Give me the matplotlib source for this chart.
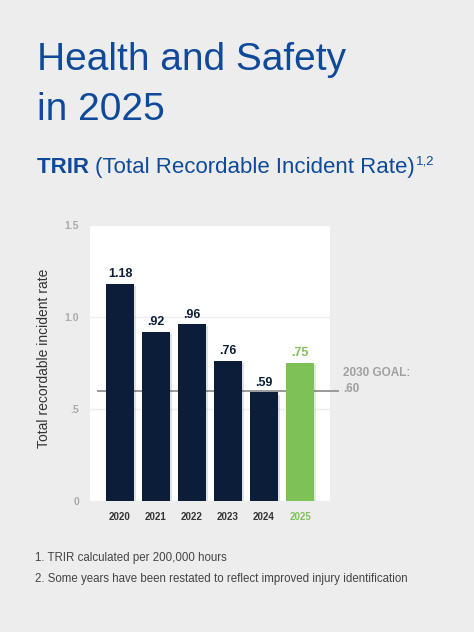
import matplotlib.pyplot as plt
import matplotlib.patheffects as pe

plt.rcParams['font.family'] = ['Liberation Sans', 'DejaVu Sans']

# chart data
years = ['2020', '2021', '2022', '2023', '2024', '2025']
trir = [1.18, 0.92, 0.96, 0.76, 0.59, 0.75]
value_labels = ['1.18', '.92', '.96', '.76', '.59', '.75']
goal = 0.60
y_ticks = [0, 0.5, 1.0, 1.5]
y_tick_labels = ['0', '.5', '1.0', '1.5']

navy = '#0b1d38'
green = '#7dc157'
blue = '#0f4a9a'
grey = '#a0a0a0'

fig = plt.figure(figsize=(4.74, 6.32), dpi=100)
fig.patch.set_facecolor('#ededed')

# headings
fig.text(37 / 474, 1 - 70 / 632, 'Health and Safety', fontsize=28, color=blue,
         ha='left', va='baseline')
fig.text(37 / 474, 1 - 120 / 632, 'in 2025', fontsize=28, color=blue,
         ha='left', va='baseline')

# subtitle built from pieces so the bold part and the superscript line up
renderer = fig.canvas.get_renderer()
sub_y = 1 - 173 / 632
t1 = fig.text(37 / 474, sub_y, 'TRIR ', fontsize=16, fontweight='bold',
              color=blue, ha='left', va='baseline')
x1 = fig.transFigure.inverted().transform(
    (t1.get_window_extent(renderer).x1, 0))[0]
t2 = fig.text(x1, sub_y, '(Total Recordable Incident Rate)', fontsize=16,
              color=blue, ha='left', va='baseline')
x2 = fig.transFigure.inverted().transform(
    (t2.get_window_extent(renderer).x1, 0))[0]
fig.text(x2 + 1 / 474, sub_y + 9 / 632, '1,2', fontsize=9.5, color=blue,
         ha='left', va='baseline')

ax = fig.add_axes([90 / 474, 131 / 632, 240 / 474, 276 / 632])
ax.set_facecolor('white')
for s in ax.spines.values():
    s.set_visible(False)

x = list(range(len(years)))
colors = [navy] * (len(years) - 1) + [green]
bars = ax.bar(x, trir, width=0.78, color=colors, zorder=3)
for b in bars:
    b.set_path_effects([pe.SimplePatchShadow(offset=(1.5, -1.5), alpha=0.12),
                        pe.Normal()])

for xi, v, lab, c in zip(x, trir, value_labels, colors):
    ax.text(xi, v + 0.02, lab, ha='center', va='bottom', fontsize=9,
            fontweight='bold', color=c, zorder=4)

ax.set_xlim(-0.833, 5.833)
ax.set_ylim(0, 1.5)
ax.set_yticks(y_ticks)
ax.set_yticklabels(y_tick_labels, fontsize=7.5, fontweight='bold', color='#aaaaaa')
ax.set_xticks(x)
ax.set_xticklabels(years, fontsize=7, fontweight='bold', color='#333333')
ax.get_xticklabels()[-1].set_color(green)
ax.tick_params(axis='both', length=0)
ax.tick_params(axis='y', pad=8)
ax.tick_params(axis='x', pad=8)
ax.grid(axis='y', color='#eeeeee', linewidth=1, zorder=0)

# goal line
ax.axhline(goal, xmin=8 / 240, xmax=248 / 240, color='#9a9a9a', linewidth=1.4,
           clip_on=False, zorder=2)
ax.text(1.055, 0.595 + 0.055, '2030 GOAL:\n.60', transform=ax.get_yaxis_transform(),
        ha='left', va='center', fontsize=8.5, fontweight='bold', color=grey,
        linespacing=1.45)
ax.text(-0.19, 0.518, 'Total recordable incident rate', transform=ax.transAxes,
        rotation=90, ha='center', va='center', fontsize=10, color='#333333')

# footnotes
fig.text(35 / 474, 1 - 558 / 632, '1. TRIR calculated per 200,000 hours',
         fontsize=8.3, color='#444444', va='center')
fig.text(35 / 474, 1 - 579 / 632,
         '2. Some years have been restated to reflect improved injury identification',
         fontsize=8.3, color='#444444', va='center')

fig.savefig('out.png', dpi=100, facecolor=fig.get_facecolor())
